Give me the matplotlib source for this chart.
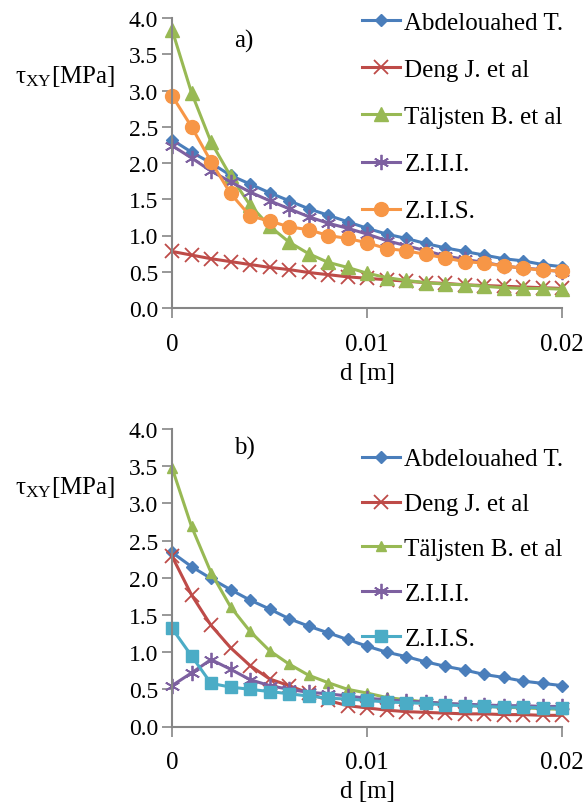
import matplotlib
matplotlib.use("Agg")
import matplotlib.pyplot as plt
import numpy as np

plt.rcParams['font.family'] = ['Liberation Serif', 'DejaVu Serif']
plt.rcParams['mathtext.fontset'] = 'custom'
plt.rcParams['mathtext.rm'] = 'Liberation Serif'

# distancia d [m], paso 0.001
d = [i * 0.001 for i in range(21)]

nombres = ["Abdelouahed T.", "Deng J. et al", "Täljsten B. et al", "Z.I.I.I.", "Z.I.I.S."]

# caso a)
abdel_a = [2.32, 2.15, 2.00, 1.83, 1.71, 1.59, 1.48, 1.37, 1.28, 1.19, 1.10,
           1.02, 0.96, 0.89, 0.83, 0.78, 0.73, 0.68, 0.65, 0.60, 0.57]
deng_a = [0.78, 0.73, 0.68, 0.64, 0.60, 0.56, 0.53, 0.49, 0.46, 0.43, 0.41,
          0.39, 0.37, 0.35, 0.34, 0.32, 0.31, 0.30, 0.29, 0.28, 0.27]
talj_a = [3.84, 2.97, 2.29, 1.82, 1.42, 1.13, 0.91, 0.75, 0.63, 0.56, 0.48,
          0.42, 0.38, 0.35, 0.33, 0.32, 0.30, 0.28, 0.27, 0.27, 0.26]
ziii_a = [2.24, 2.07, 1.89, 1.74, 1.60, 1.48, 1.37, 1.26, 1.17, 1.10, 1.02,
          0.93, 0.86, 0.79, 0.72, 0.67, 0.63, 0.58, 0.55, 0.53, 0.50]
ziis_a = [2.93, 2.50, 2.02, 1.58, 1.27, 1.20, 1.12, 1.08, 1.00, 0.96, 0.90,
          0.82, 0.79, 0.74, 0.69, 0.64, 0.62, 0.58, 0.55, 0.52, 0.51]

# caso b)
abdel_b = [2.34, 2.15, 1.99, 1.84, 1.70, 1.58, 1.45, 1.35, 1.26, 1.17, 1.08,
           1.00, 0.94, 0.87, 0.81, 0.76, 0.70, 0.66, 0.61, 0.58, 0.55]
deng_b = [2.29, 1.77, 1.36, 1.06, 0.82, 0.64, 0.55, 0.45, 0.35, 0.28, 0.25,
          0.22, 0.20, 0.19, 0.18, 0.17, 0.17, 0.16, 0.16, 0.15, 0.15]
talj_b = [3.48, 2.69, 2.07, 1.61, 1.28, 1.02, 0.84, 0.69, 0.59, 0.50, 0.45,
          0.39, 0.36, 0.33, 0.31, 0.29, 0.27, 0.26, 0.25, 0.24, 0.23]
ziii_b = [0.55, 0.72, 0.90, 0.77, 0.63, 0.55, 0.50, 0.46, 0.44, 0.41, 0.38,
          0.36, 0.34, 0.33, 0.31, 0.30, 0.29, 0.28, 0.28, 0.27, 0.27]
ziis_b = [1.32, 0.95, 0.58, 0.53, 0.50, 0.47, 0.44, 0.41, 0.38, 0.37, 0.35,
          0.33, 0.32, 0.31, 0.29, 0.28, 0.27, 0.26, 0.26, 0.25, 0.245]

azul = '#4A7EBB'
rojo = '#BE4B48'
verde = '#98B954'
morado = '#7D60A0'
naranja = '#F79646'
cian = '#4BACC6'
gris = '#868686'

estilos_a = [
    dict(color=azul, marker='D', ms=6),
    dict(color=rojo, marker='x', ms=10, mew=1.3),
    dict(color=verde, marker='^', ms=10),
    dict(color=morado, marker=(6, 2, 0), ms=11, mew=1.3),
    dict(color=naranja, marker='o', ms=10),
]
estilos_b = [
    dict(color=azul, marker='D', ms=6),
    dict(color=rojo, marker='x', ms=10, mew=1.3),
    dict(color=verde, marker='^', ms=7),
    dict(color=morado, marker=(6, 2, 0), ms=11, mew=1.3),
    dict(color=cian, marker='s', ms=8),
]

fig = plt.figure(figsize=(5.87, 8.03), dpi=100)
ax1 = fig.add_axes([172/587, 1-309/803, 390/587, 290/803])
ax2 = fig.add_axes([172/587, 1-727.5/803, 390/587, 297.5/803])


def graficar(ax, series, estilos, letra, letra_y, leg_y, leg_sp):
    for y, est, nom in zip(series, estilos, nombres):
        ax.plot(d, y, lw=2.2, label=nom, clip_on=False, **est)
    ax.set_xlim(0, 0.02)
    ax.set_ylim(0, 4)
    ax.set_yticks(np.arange(0, 4.01, 0.5))
    ax.set_yticklabels(['%.1f' % v for v in np.arange(0, 4.01, 0.5)])
    ax.set_xticks([0, 0.01, 0.02])
    ax.set_xticklabels(['0', '0.01', '0.02'])
    for s in ['top', 'right']:
        ax.spines[s].set_visible(False)
    for s in ['left', 'bottom']:
        ax.spines[s].set_color(gris)
        ax.spines[s].set_linewidth(1.5)
    ax.tick_params(axis='y', direction='out', length=7, width=1.2, color=gris,
                   labelsize=17, pad=3)
    ax.tick_params(axis='x', direction='out', length=7, width=1.2, color=gris,
                   labelsize=18, pad=11)
    ax.set_xlabel('d [m]', fontsize=18, labelpad=5)
    ax.text(0.16, letra_y, letra, transform=ax.transAxes, fontsize=18,
            va='baseline')
    ax.legend(loc='upper left', bbox_to_anchor=(362/587, leg_y),
              bbox_transform=fig.transFigure, frameon=False, fontsize=18,
              handlelength=1.5, handletextpad=0.2, labelspacing=leg_sp,
              borderaxespad=0, borderpad=0)


graficar(ax1, [abdel_a, deng_a, talj_a, ziii_a, ziis_a], estilos_a, 'a)', 0.90,
         1-12/803, 0.99)
graficar(ax2, [abdel_b, deng_b, talj_b, ziii_b, ziis_b], estilos_b, 'b)', 0.916,
         1-449/803, 0.89)

fig.text(15/587, 1-77/803, r'$\mathregular{\tau_{XY}}$[MPa]', fontsize=18,
         ha='left', va='center')
fig.text(15/587, 1-488/803, r'$\mathregular{\tau_{XY}}$[MPa]', fontsize=18,
         ha='left', va='center')

fig.savefig('out.png', dpi=100)
